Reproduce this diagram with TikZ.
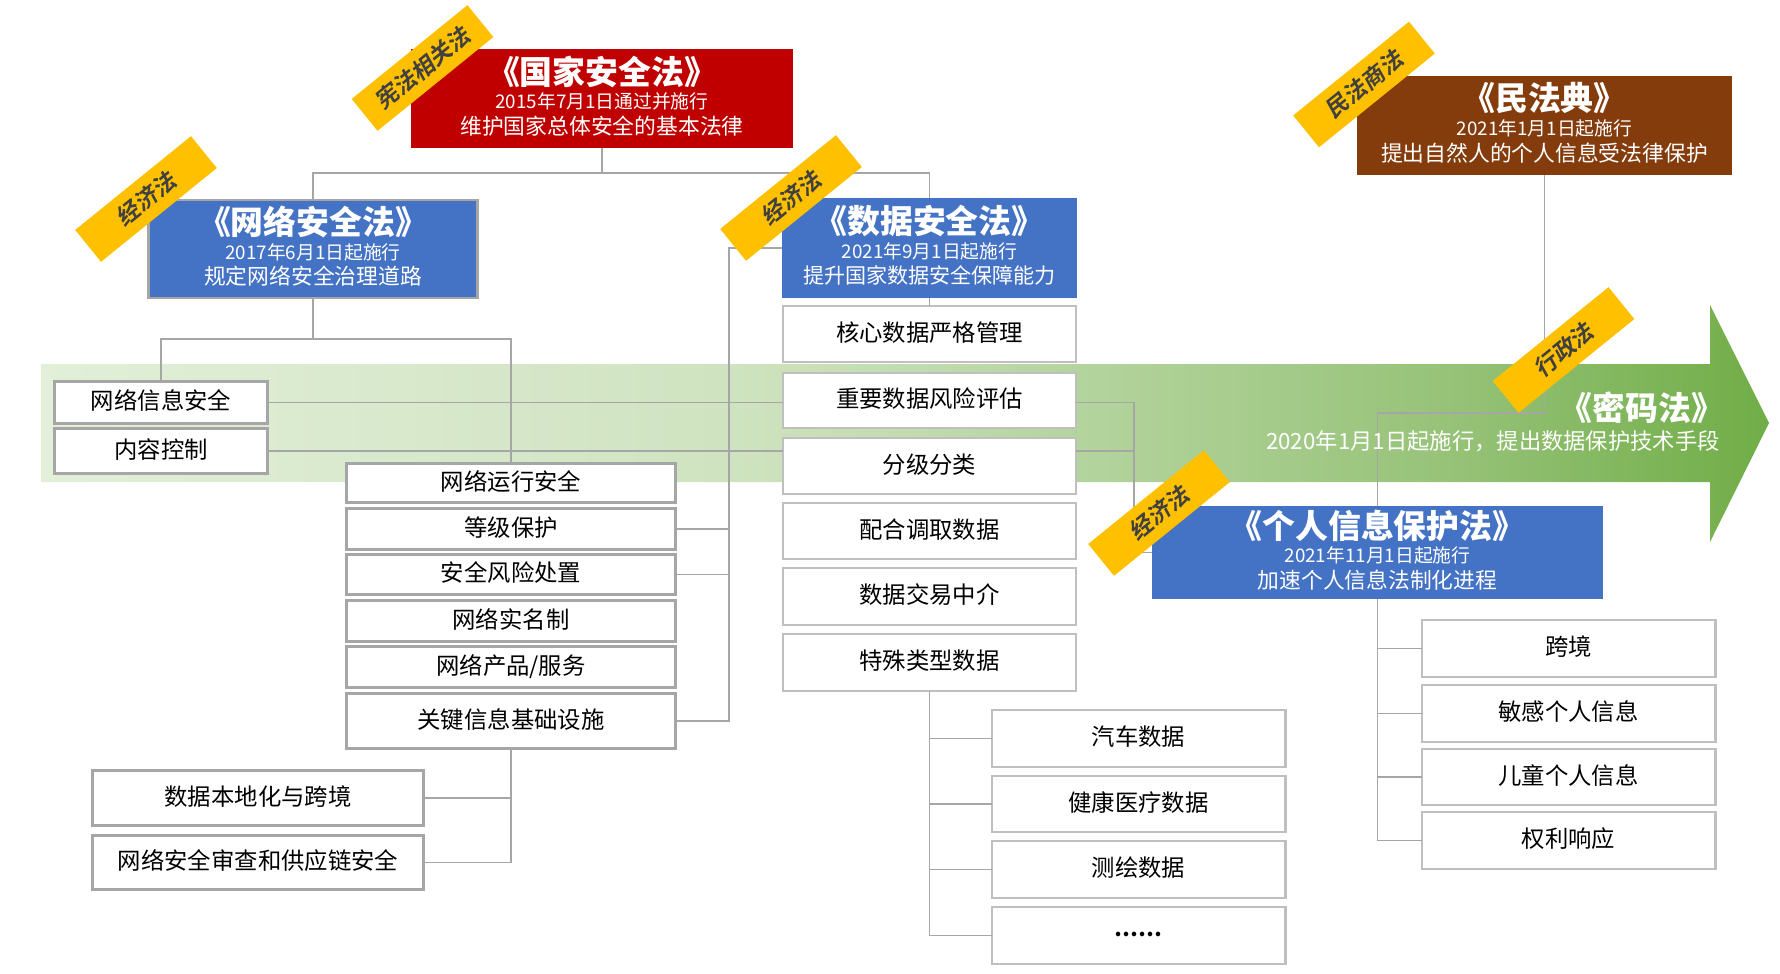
\documentclass[tikz,border=0pt]{standalone}
\usepackage{fontspec}
\usetikzlibrary{calc}
\setmainfont{Noto Sans CJK SC}
\newfontfamily\slantfont[FakeSlant=0.18]{Noto Sans CJK SC Bold}
\definecolor{lawblue}{HTML}{4472C4}
\definecolor{lawred}{HTML}{C00000}
\definecolor{lawbrown}{HTML}{843C0C}
\definecolor{tagyellow}{HTML}{FFC000}
\definecolor{linegray}{HTML}{A6A6A6}
\definecolor{edgegray}{HTML}{BFBFBF}
\definecolor{stopa}{HTML}{E2EFD9}
\definecolor{stopb}{HTML}{CFE3C0}
\definecolor{stopc}{HTML}{B4D49E}
\definecolor{stopd}{HTML}{96C277}
\definecolor{stope}{HTML}{70AD47}
\pgfdeclarehorizontalshading{timeline}{100bp}{color(0bp)=(stopa); color(25bp)=(stopa); color(45bp)=(stopb); color(55bp)=(stopc); color(66bp)=(stopd); color(75bp)=(stope); color(100bp)=(stope)}
\newcommand{\lawtext}[3]{{\fontsize{18.7}{20}\selectfont\bfseries #1}\\[2.1pt]{\fontsize{10.7}{13}\selectfont #2}\\[2.5pt]{\fontsize{12.4}{14}\selectfont #3\rule[-4pt]{0pt}{0pt}}}

\begin{document}
\begin{tikzpicture}[x=0.02cm, y=-0.02cm,
    lawsize/.style 2 args={minimum width=#1*0.02cm, minimum height=#2*0.02cm},
    boxsize/.style 2 args={minimum width=(#1-1.5)*0.02cm, minimum height=(#2-1.5)*0.02cm},
    lawbox/.style={text=white, align=center, inner sep=0pt, outer sep=0pt},
    itembox/.style={draw=edgegray, line width=1.4pt, fill=white, inner sep=0pt, outer sep=0pt, text height=11.7pt, text depth=3.3pt, font=\fontsize{13.3}{15}\selectfont},
    netitem/.style={itembox, draw=linegray, line width=1.7pt},
    tagbox/.style={fill=tagyellow, text=black!75, rotate=39, lawsize={149}{41}, inner sep=0pt, font=\fontsize{13}{15}\slantfont},
    link/.style={draw=linegray, line width=0.9pt}]
    \useasboundingbox (0,0) rectangle (1780,973);

    % Timeline arrow
    \path[shading=timeline] (41,364) -- (1710,364) -- (1710,305) -- (1769,423) -- (1710,542) -- (1710,482) -- (41,482) -- cycle;

    % Laws
    \node[lawbox, fill=lawred, lawsize={382}{99}] (national) at (602,98.5) {\lawtext{《国家安全法》}{2015年7月1日通过并施行}{维护国家总体安全的基本法律}};
    \node[lawbox, fill=lawblue, draw=linegray, line width=1.7pt, lawsize={329}{98}] (netlaw) at (313,249) {\lawtext{《网络安全法》}{2017年6月1日起施行}{规定网络安全治理道路}};
    \node[lawbox, fill=lawblue, lawsize={295}{100}] (datalaw) at (929.5,248) {\lawtext{《数据安全法》}{2021年9月1日起施行}{{\fontsize{12}{14}\selectfont 提升国家数据安全保障能力}}};
    \node[lawbox, fill=lawbrown, lawsize={375}{99}] (civil) at (1544.5,125.5) {\lawtext{《民法典》}{2021年1月1日起施行}{提出自然人的个人信息受法律保护}};
    \node[lawbox, fill=lawblue, lawsize={451}{93}] (pipl) at (1377.5,552.5) {\lawtext{《个人信息保护法》}{2021年11月1日起施行}{加速个人信息法制化进程}};

    % Network security items
    \node[netitem, boxsize={214}{43}] (netinfo) at (161,402.5) {网络信息安全};
    \node[netitem, boxsize={214}{46}] (content) at (161,451) {内容控制};
    \node[netitem, boxsize={330}{40}] (netrun) at (511,483) {网络运行安全};
    \node[netitem, boxsize={330}{42}] (level) at (511,529) {等级保护};
    \node[netitem, boxsize={330}{41}] (risk) at (511,574.5) {安全风险处置};
    \node[netitem, boxsize={330}{42}] (realname) at (511,621) {网络实名制};
    \node[netitem, boxsize={330}{42}] (product) at (511,667) {网络产品/服务};
    \node[netitem, boxsize={330}{56}] (cii) at (511,721) {关键信息基础设施};
    \node[netitem, boxsize={332}{56}] (localize) at (258,798) {数据本地化与跨境};
    \node[netitem, boxsize={332}{55}] (review) at (258,862.5) {网络安全审查和供应链安全};

    % Data security items
    \node[itembox, boxsize={295}{58}] (core) at (929.5,334) {核心数据严格管理};
    \node[itembox, boxsize={295}{57}] (important) at (929.5,400.5) {重要数据风险评估};
    \node[itembox, boxsize={295}{58}] (grade) at (929.5,466) {分级分类};
    \node[itembox, boxsize={295}{58}] (access) at (929.5,531) {配合调取数据};
    \node[itembox, boxsize={295}{59}] (trade) at (929.5,596.5) {数据交易中介};
    \node[itembox, boxsize={295}{59}] (special) at (929.5,662.5) {特殊类型数据};
    \node[itembox, boxsize={295}{59}] (car) at (1138.5,738.5) {汽车数据};
    \node[itembox, boxsize={295}{58}] (health) at (1138.5,804) {健康医疗数据};
    \node[itembox, boxsize={295}{59}] (mapping) at (1138.5,869.5) {测绘数据};
    \node[itembox, boxsize={295}{59}] (more) at (1138.5,935.5) {\fontsize{12}{14}\selectfont\bfseries\raisebox{3.9pt}{……}};

    % Personal information items
    \node[itembox, boxsize={295}{59}] (cross) at (1568.5,648.5) {跨境};
    \node[itembox, boxsize={295}{59}] (sensitive) at (1568.5,713.5) {敏感个人信息};
    \node[itembox, boxsize={295}{58}] (child) at (1568.5,777) {儿童个人信息};
    \node[itembox, boxsize={295}{59}] (rights) at (1568.5,840.5) {权利响应};

    % Branch points
    \coordinate (lawfork) at (602,173);
    \coordinate (netfork) at (313,339);
    \coordinate (leftspine) at (729,721);
    \coordinate (rightspine) at (1134,552.5);
    \coordinate (civilfork) at (1544.5,413);
    \coordinate (ciifork) at (511,862.5);

    % Connectors
    \draw[link] (national.south) -- (lawfork);
    \draw[link] (netlaw.north) |- (lawfork) -| (datalaw.north);
    \draw[link] (netlaw.south) -- (netfork);
    \draw[link] (netinfo.north) |- (netfork) -| (netrun.north);
    \draw[link] (datalaw.west) -| (leftspine) -- (cii.east);
    \draw[link] (level.east) -- (level.east -| leftspine);
    \draw[link] (risk.east) -- (risk.east -| leftspine);
    \draw[link] (netinfo.east) -- (netinfo.east -| important.west);
    \draw[link] (content.east) -- (content.east -| grade.west);
    \draw[link] (netinfo.east -| important.east) -| (rightspine) -- (pipl.west);
    \draw[link] (content.east -| grade.east) -- (content.east -| rightspine);
    \draw[link] (cii.south) -- (ciifork) -- (review.east);
    \draw[link] (localize.east) -- (localize.east -| ciifork);
    \draw[link] (datalaw.south) -- (core.north);
    \draw[link] (special.south) |- (more.west);
    \draw[link] (car.west) -- (car.west -| special.south);
    \draw[link] (health.west) -- (health.west -| special.south);
    \draw[link] (mapping.west) -- (mapping.west -| special.south);
    \draw[link] (civil.south) -- (civilfork) -| (pipl.north);
    \draw[link] (pipl.south) |- (rights.west);
    \draw[link] (cross.west) -- (cross.west -| pipl.south);
    \draw[link] (sensitive.west) -- (sensitive.west -| pipl.south);
    \draw[link] (child.west) -- (child.west -| pipl.south);

    % Arrow labels
    \node[text=white, font=\fontsize{18.7}{20}\selectfont\bfseries] (crypto) at (1642,408) {《密码法》};
    \node[text=white, font=\fontsize{12.7}{14}\selectfont] (cryptonote) at (1493,441) {2020年1月1日起施行，提出数据保护技术手段};

    % Tags
    \node[tagbox] (tagnational) at (422.5,68) {宪法相关法};
    \node[tagbox] (tagnet) at (146,199) {经济法};
    \node[tagbox] (tagdata) at (791,198) {经济法};
    \node[tagbox] (tagcivil) at (1364,84.5) {民法商法};
    \node[tagbox] (tagcrypto) at (1563.5,350) {行政法};
    \node[tagbox] (tagpipl) at (1159,513) {经济法};
\end{tikzpicture}
\end{document}
